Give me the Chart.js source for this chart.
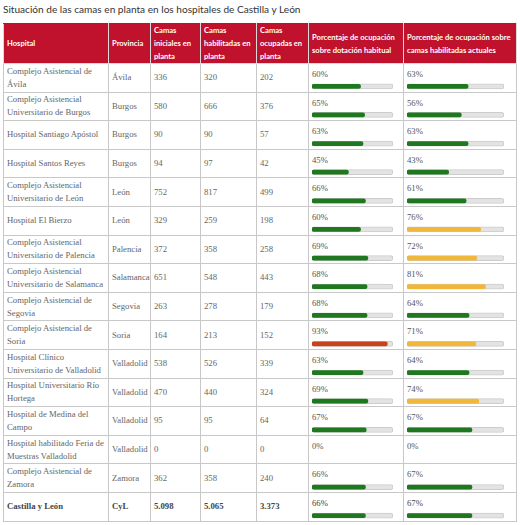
<!DOCTYPE html>
<html>
<head>
<meta charset="utf-8">
<script src="https://cdn.jsdelivr.net/npm/chart.js@4"></script>
<style>
  html, body { margin: 0; padding: 0; background: #fff; }
  body { width: 520px; height: 525px; position: relative; overflow: hidden; }
  #title { position: absolute; left: 3px; top: 3px; font-family: Lato, sans-serif; font-size: 10.1px; color: #333; }
  table { position: absolute; left: 3px; top: 23px; border-collapse: collapse; table-layout: fixed; width: 513px; }
  th { background: #c0122c; color: #fff; font-family: Lato, sans-serif; font-weight: bold; font-size: 7.6px; line-height: 13px; text-align: left; padding: 0 2px 0 3px; height: 37px; box-sizing: border-box; border: 1px solid #d9d9d9; border-top: 1px solid #c0122c; }
  td { font-family: "Liberation Serif", serif; font-size: 8.7px; line-height: 13px; color: #666; padding: 0 3px; height: 28.6px; box-sizing: border-box; border: 1px solid #c8c8c8; vertical-align: middle; overflow: hidden; }
  td.pct { vertical-align: top; padding-top: 4px; color: #555; }
  tr.total td { font-weight: bold; color: #444; }
  tr.total td.pct { font-weight: normal; }
  canvas.bars { position: absolute; }
</style>
</head>
<body>
<div id="title">Situación de las camas en planta en los hospitales de Castilla y León</div>
<table id="tbl">
  <colgroup>
    <col style="width:105px"><col style="width:42px"><col style="width:50px"><col style="width:56px"><col style="width:52px"><col style="width:95px"><col style="width:113px">
  </colgroup>
  <thead><tr id="hdr"></tr></thead>
  <tbody id="body"></tbody>
</table>
<canvas id="c1" class="bars"></canvas>
<canvas id="c2" class="bars"></canvas>
<script>
const headers = ["Hospital", "Provincia", "Camas iniciales en planta", "Camas habilitadas en planta", "Camas ocupadas en planta", "Porcentaje de ocupación sobre dotación habitual", "Porcentaje de ocupación sobre camas habilitadas actuales"];
const hospitals = ["Complejo Asistencial de Ávila", "Complejo Asistencial Universitario de Burgos", "Hospital Santiago Apóstol", "Hospital Santos Reyes", "Complejo Asistencial Universitario de León", "Hospital El Bierzo", "Complejo Asistencial Universitario de Palencia", "Complejo Asistencial Universitario de Salamanca", "Complejo Asistencial de Segovia", "Complejo Asistencial de Soria", "Hospital Clínico Universitario de Valladolid", "Hospital Universitario Río Hortega", "Hospital de Medina del Campo", "Hospital habilitado Feria de Muestras Valladolid", "Complejo Asistencial de Zamora", "Castilla y León"];
const provincias = ["Ávila", "Burgos", "Burgos", "Burgos", "León", "León", "Palencia", "Salamanca", "Segovia", "Soria", "Valladolid", "Valladolid", "Valladolid", "Valladolid", "Zamora", "CyL"];
const camasIniciales = ["336", "580", "90", "94", "752", "329", "372", "651", "263", "164", "538", "470", "95", "0", "362", "5.098"];
const camasHabilitadas = ["320", "666", "90", "97", "817", "259", "358", "548", "278", "213", "526", "440", "95", "0", "358", "5.065"];
const camasOcupadas = ["202", "376", "57", "42", "499", "198", "258", "443", "179", "152", "339", "324", "64", "0", "240", "3.373"];
const pctDotacion = [60, 65, 63, 45, 66, 60, 69, 68, 68, 93, 63, 69, 67, 0, 66, 66];
const pctHabilitadas = [63, 56, 63, 43, 61, 76, 72, 81, 64, 71, 64, 74, 67, 0, 67, 67];
const pctScaleMax = [100];

// Build table
const hdr = document.getElementById('hdr');
headers.forEach(h => { const th = document.createElement('th'); th.textContent = h; hdr.appendChild(th); });
const body = document.getElementById('body');
hospitals.forEach((h, i) => {
  const tr = document.createElement('tr');
  if (i === hospitals.length - 1) tr.className = 'total';
  [h, provincias[i], camasIniciales[i], camasHabilitadas[i], camasOcupadas[i]].forEach(v => {
    const td = document.createElement('td'); td.textContent = v; tr.appendChild(td);
  });
  [pctDotacion[i], pctHabilitadas[i]].forEach(v => {
    const td = document.createElement('td'); td.className = 'pct'; td.textContent = v + '%'; tr.appendChild(td);
  });
  body.appendChild(tr);
});

function colorFor(v) { return v > 90 ? '#c8421c' : (v > 70 ? '#f0b73a' : '#1f781f'); }

const rows = body.querySelectorAll('tr');
const firstTop = rows[0].getBoundingClientRect().top;
const lastBottom = rows[rows.length - 1].getBoundingClientRect().bottom;
const rowsH = lastBottom - firstTop;
const shift = 8.4;

function makeChart(id, colIndex, values, padL, padR) {
  const cell = rows[0].children[colIndex].getBoundingClientRect();
  const cv = document.getElementById(id);
  const w = Math.round(cell.width - padL - padR);
  const h = Math.round(rowsH);
  cv.width = w; cv.height = h;
  cv.style.left = (cell.left + padL) + 'px';
  cv.style.top = (firstTop + shift) + 'px';
  cv.style.width = w + 'px'; cv.style.height = h + 'px';
  const track = values.map((v, i) => camasHabilitadas[i] === '0' ? null : pctScaleMax[0]);
  new Chart(cv, {
    type: 'bar',
    data: {
      labels: hospitals,
      datasets: [
        { label: 'track', data: track, backgroundColor: '#e3e3e3', borderColor: '#cccccc', borderWidth: 1, barThickness: 5, borderRadius: 2.5, borderSkipped: false, grouped: false, order: 2 },
        { label: 'value', data: values.map((v, i) => track[i] === null ? null : v), backgroundColor: values.map(colorFor), barThickness: 4, borderRadius: 2, borderSkipped: false, grouped: false, order: 1 }
      ]
    },
    options: {
      indexAxis: 'y',
      responsive: false,
      animation: false,
      layout: { padding: 0 },
      plugins: { legend: { display: false }, tooltip: { enabled: false } },
      scales: {
        x: { display: false, min: 0, max: pctScaleMax[0] },
        y: { display: false }
      }
    }
  });
}
makeChart('c1', 5, pctDotacion, 3, 11);
makeChart('c2', 6, pctHabilitadas, 3, 13);
</script>
</body>
</html>
